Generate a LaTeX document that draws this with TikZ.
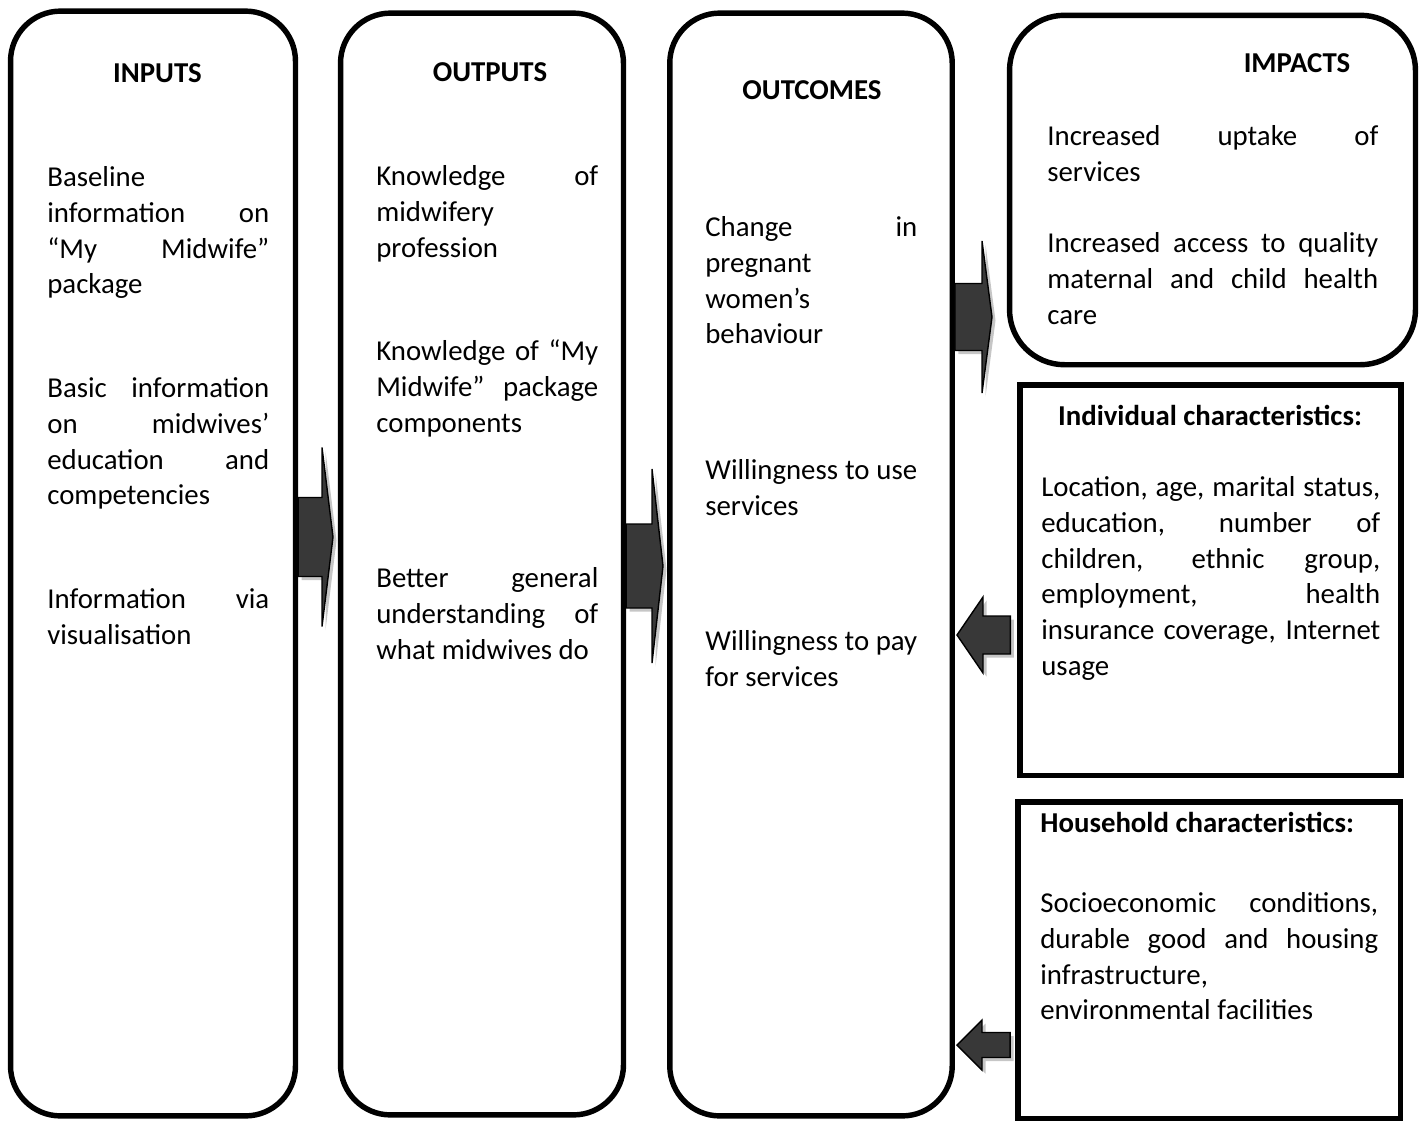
\documentclass[tikz,border=0pt]{standalone}
\usepackage{fontspec}
\setmainfont{Carlito}
\usetikzlibrary{calc, shadows}
\hyphenpenalty=10000
\exhyphenpenalty=10000
\tolerance=10000
\newcommand{\bodyfont}{\fontsize{16.4}{20.4}\selectfont}
% block arrow: start, tip, shaft half, head half, head length
\newcommand{\linkarrow}[5]{%
  \coordinate (s) at (#1 |- #2);
  \coordinate (b) at ($(#2)!#5!(s)$);
  \path[bigarrow] ($(s)+(0,#3)$) -- ($(b)+(0,#3)$) -- ($(b)+(0,#4)$) -- (#2)
    -- ($(b)+(0,-#4)$) -- ($(b)+(0,-#3)$) -- ($(s)+(0,-#3)$) -- cycle;}
\tikzset{
  stage/.style={rectangle, rounded corners=1cm, draw=black, line width=3.1pt},
  factor/.style={rectangle, draw=black, line width=3.1pt},
  heading/.style={anchor=base, inner sep=0pt, font=\bodyfont\bfseries},
  body/.style={anchor=north west, inner sep=0pt, align=justify, font=\bodyfont},
  bigarrow/.style={draw=black, line width=0.8pt, top color=black!78, middle color=black, bottom color=black!78,
    drop shadow={shadow xshift=2pt, shadow yshift=-2pt, opacity=0.45}}
}
\begin{document}
\begin{tikzpicture}[x=0.02cm, y=-0.02cm]
  \useasboundingbox (0,0) rectangle (1426,1120);

  % the stages
  \node (inputs) [stage, minimum width=5.7cm, minimum height=22.1cm] at (153,563.5) {};
  \node (outputs) [stage, minimum width=5.66cm, minimum height=22.04cm] at (482,564) {};
  \node (outcomes) [stage, minimum width=5.65cm, minimum height=22.06cm] at (811,564.5) {};
  \node (impacts) [stage, rounded corners=1.1cm, minimum width=8.12cm, minimum height=6.99cm] at (1212.5,190) {};
  \node (indiv) [factor, minimum width=7.62cm, minimum height=7.81cm] at (1210.5,580) {};
  \node (house) [factor, minimum width=7.65cm, minimum height=6.34cm] at (1209,960.5) {};

  % headings
  \node (inputsT) [heading] at (157.5,82) {INPUTS};
  \node (outputsT) [heading] at (490,81) {OUTPUTS};
  \node (outcomesT) [heading] at (812,99.5) {OUTCOMES};
  \node (impactsT) [heading] at (1297,72) {IMPACTS};
  \node (indivT) [heading] at (1210,425) {Individual characteristics:};
  \node (houseT) [heading, anchor=base west] at (1040,832) {Household characteristics:};

  % inputs
  \node (in1) [body, text width=4.44cm] at (47,161) {\strut Baseline\linebreak information on\linebreak “My Midwife”\linebreak package};
  \node (in2) [body, text width=4.44cm] at (47,372) {\strut Basic information\linebreak on midwives’\linebreak education and\linebreak competencies};
  \node (in3) [body, text width=4.44cm] at (47,583) {\strut Information via\linebreak visualisation};

  % outputs
  \node (out1) [body, text width=4.44cm] at (376,160) {\strut Knowledge of\linebreak midwifery\linebreak profession};
  \node (out2) [body, text width=4.44cm] at (376,335) {\strut Knowledge of “My\linebreak Midwife” package\linebreak components};
  \node (out3) [body, text width=4.44cm] at (376,562) {\strut Better general\linebreak understanding of\linebreak what midwives do};

  % outcomes
  \node (oc1) [body, text width=4.24cm] at (705,211) {\strut Change in\linebreak pregnant\linebreak women’s\linebreak behaviour};
  \node (oc2) [body, text width=4.24cm] at (705,454) {\strut Willingness to use\linebreak services};
  \node (oc3) [body, text width=4.24cm] at (705,625) {\strut Willingness to pay\linebreak for services};

  % impacts
  \node (im1) [body, text width=6.62cm] at (1047,120) {\strut Increased uptake of\linebreak services};
  \node (im2) [body, text width=6.62cm] at (1047,227) {\strut Increased access to quality\linebreak maternal and child health\linebreak care};

  % characteristics
  \node (indivB) [body, text width=6.78cm] at (1041,471) {\strut Location, age, marital status,\linebreak education, number of\linebreak children, ethnic group,\linebreak employment, health\linebreak insurance coverage, Internet\linebreak usage};
  \node (houseB) [body, text width=6.76cm] at (1040,887) {\strut Socioeconomic conditions,\linebreak durable good and housing\linebreak infrastructure,\linebreak environmental facilities};

  % arrows
  \coordinate (tipA) at (333,537);
  \coordinate (tipB) at (663,566);
  \coordinate (tipC) at (992,317);
  \coordinate (tipD) at (957,635);
  \coordinate (tipE) at (957,1045);
  \coordinate (indivW) at ([xshift=-0.14cm]indiv.west);
  \coordinate (houseW) at ([xshift=-0.1cm]house.west);
  \linkarrow{inputs.east}{tipA}{39.5}{89.5}{0.22cm}
  \linkarrow{outputs.east}{tipB}{42}{97}{0.22cm}
  \linkarrow{outcomes.east}{tipC}{33.5}{76}{0.2cm}
  \linkarrow{indivW}{tipD}{19}{38}{0.52cm}
  \linkarrow{houseW}{tipE}{12.5}{25}{0.5cm}
\end{tikzpicture}
\end{document}
